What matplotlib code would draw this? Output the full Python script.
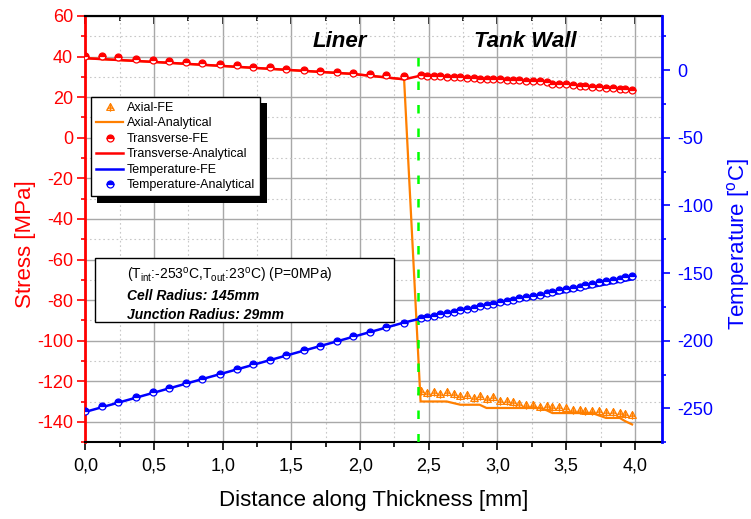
import numpy as np
import matplotlib
matplotlib.use('Agg')
import matplotlib.pyplot as plt
from matplotlib.ticker import MultipleLocator
from matplotlib.patches import Rectangle
from matplotlib.path import Path
import matplotlib.patheffects as pe

plt.rcParams['font.family'] = ['Liberation Sans', 'DejaVu Sans']
plt.rcParams['mathtext.fontset'] = 'custom'
plt.rcParams['mathtext.rm'] = 'Liberation Sans'
plt.rcParams['mathtext.it'] = 'Liberation Sans:italic'
plt.rcParams['mathtext.bf'] = 'Liberation Sans:bold'
plt.rcParams['axes.unicode_minus'] = False

# 데이터
liner_x = [0.00, 0.12, 0.24, 0.37, 0.49, 0.61, 0.73, 0.85, 0.98, 1.10,
           1.22, 1.34, 1.46, 1.59, 1.71, 1.83, 1.95, 2.07, 2.19, 2.32]
wall_x = [2.44, 2.49, 2.54, 2.58, 2.63, 2.68, 2.73, 2.78, 2.83, 2.87, 2.92,
          2.97, 3.02, 3.07, 3.11, 3.16, 3.21, 3.26, 3.31, 3.36, 3.40, 3.45,
          3.50, 3.55, 3.60, 3.64, 3.69, 3.74, 3.79, 3.84, 3.89, 3.93, 3.98]

# Transverse-FE (MPa)
trans_fe_liner = [40.3, 40.5, 39.7, 38.8, 38.3, 38.0, 37.2, 36.7, 36.4, 35.7,
                  35.0, 34.7, 33.8, 33.4, 32.9, 32.5, 32.1, 31.5, 30.8, 30.5]
trans_fe_wall = [31.0, 30.6, 30.5, 30.3, 30.1, 29.9, 29.7, 29.5, 29.3, 29.2, 29.0,
                 28.9, 28.8, 28.6, 28.4, 28.3, 28.1, 27.9, 27.8, 27.6, 26.5, 26.4,
                 26.3, 26.0, 25.7, 25.4, 25.1, 24.8, 24.5, 24.3, 24.0, 23.8, 23.6]

# Transverse-Analytical
trans_an_x = [0.00, 0.49, 0.97, 1.46, 1.94, 2.32, 2.44, 2.87, 3.36, 3.40, 3.98]
trans_an = [39.2, 37.4, 35.5, 33.5, 31.5, 28.8, 30.6, 29.0, 27.3, 26.2, 23.3]

# Axial-FE (tank wall)
axial_fe_wall = [-124.9, -125.7, -125.2, -126.2, -125.2, -126.2, -127.4, -126.9, -128.2,
                 -127.4, -128.5, -127.9, -129.5, -129.8, -130.2, -131.2, -131.5, -131.8,
                 -132.8, -132.3, -132.6, -132.8, -133.1, -133.9, -133.9, -134.8, -134.8,
                 -134.8, -135.1, -135.1, -135.6, -136.1, -136.4]

# Axial-Analytical
axial_an_x = [0.00, 0.49, 0.97, 1.46, 1.94, 2.32, 2.44, 2.63, 2.68, 2.73, 2.87, 2.92,
              3.31, 3.36, 3.40, 3.69, 3.74, 3.79, 3.89, 3.93, 3.98]
axial_an = [39.2, 37.4, 35.5, 33.5, 31.5, 28.8, -129.9, -129.9, -130.7, -131.5, -131.5,
            -133.1, -133.1, -134.3, -135.6, -135.6, -136.8, -138.0, -138.0, -139.6, -141.2]

# Temperature-Analytical (°C)
temp_an_liner = [-252.0, -248.5, -245.1, -241.6, -238.2, -234.7, -231.3, -227.9, -224.4, -221.0,
                 -217.5, -214.0, -210.6, -207.1, -203.7, -200.2, -196.8, -193.4, -189.9, -186.5]
temp_an_wall = [-183.4, -182.4, -181.5, -180.5, -179.5, -178.6, -177.6, -176.6, -175.6, -174.6,
                -173.7, -172.7, -171.7, -170.7, -169.7, -168.7, -167.8, -166.8, -165.8, -164.8,
                -163.8, -162.8, -161.8, -160.8, -159.9, -158.9, -157.9, -156.9, -155.9, -154.9,
                -154.0, -153.0, -152.1]

# Temperature-FE
temp_fe_x = [0.00, 1.16, 2.32, 2.44, 3.21, 3.98]
temp_fe = [-252.5, -219.5, -186.5, -183.6, -169.4, -154.6]

interface_x = 2.42
interface_range = [-150, 42]

xticks = [0.0, 0.5, 1.0, 1.5, 2.0, 2.5, 3.0, 3.5, 4.0]
xtick_labels = ['0,0', '0,5', '1,0', '1,5', '2,0', '2,5', '3,0', '3,5', '4,0']

legend_labels = ['Axial-FE', 'Axial-Analytical', 'Transverse-FE',
                 'Transverse-Analytical', 'Temperature-FE', 'Temperature-Analytical']

ORANGE = '#ff7f00'
RED = '#ff0000'
BLUE = '#0000ff'

# 삼각형 + 십자 마커
tri_cross = Path([(-1, -0.75), (1, -0.75), (0, 1), (-1, -0.75),
                  (0, 1), (0, -1.1), (-0.6, -0.15), (0.6, -0.15)],
                 [Path.MOVETO, Path.LINETO, Path.LINETO, Path.CLOSEPOLY,
                  Path.MOVETO, Path.LINETO, Path.MOVETO, Path.LINETO])

fig, ax = plt.subplots(figsize=(7.51, 5.19), dpi=100)
fig.subplots_adjust(left=0.1138, right=0.8819, top=0.9692, bottom=0.1478)
ax2 = ax.twinx()

ax.set_xlim(0, 4.2)
ax.set_ylim(-150, 60)
ax2.set_ylim(-275, 40)

# grid
ax.xaxis.set_major_locator(MultipleLocator(0.5))
ax.xaxis.set_minor_locator(MultipleLocator(0.25))
ax.yaxis.set_major_locator(MultipleLocator(20))
ax.yaxis.set_minor_locator(MultipleLocator(10))
ax2.yaxis.set_major_locator(MultipleLocator(50))
ax2.yaxis.set_minor_locator(MultipleLocator(25))
ax.grid(which='major', color='#a8a8a8', lw=1.0, ls='-')
ax.grid(which='minor', color='#c8c8c8', lw=0.8, ls=(0, (1.5, 2.5)))
ax.set_axisbelow(True)

ax.set_xticks(xticks)
ax.set_xticklabels(xtick_labels)

# 응력 곡선
h_axfe, = ax.plot(wall_x, axial_fe_wall, ls='none', marker=tri_cross, ms=6,
                  mfc='none', mec=ORANGE, mew=0.9, zorder=4)
h_axan, = ax.plot(axial_an_x, axial_an, color=ORANGE, lw=1.6, zorder=3)
h_trfe, = ax.plot(liner_x + wall_x, trans_fe_liner + trans_fe_wall, ls='none',
                  marker='o', ms=5, fillstyle='top', mfc=RED, mfcalt='white',
                  mec=RED, mew=0.9, zorder=6)
h_tran, = ax.plot(trans_an_x, trans_an, color=RED, lw=1.8, zorder=5)

ax.plot([interface_x, interface_x], interface_range, color='#00ff00', lw=1.8,
        dashes=(3.4, 6.0), zorder=7)

# 온도 곡선
h_tfe, = ax2.plot(temp_fe_x, temp_fe, color=BLUE, lw=1.8, zorder=3)
h_tan, = ax2.plot(liner_x + wall_x, temp_an_liner + temp_an_wall, ls='none',
                  marker='o', ms=5, fillstyle='top', mfc=BLUE, mfcalt='white',
                  mec=BLUE, mew=0.9, zorder=4)

# spines / ticks
ax.spines['left'].set_color(RED)
ax.spines['left'].set_linewidth(2)
ax.spines['right'].set_visible(False)
for s in ['top', 'bottom']:
    ax.spines[s].set_linewidth(1.5)
for s in ['left', 'top', 'bottom']:
    ax2.spines[s].set_visible(False)
ax2.spines['right'].set_color(BLUE)
ax2.spines['right'].set_linewidth(2)

ax.tick_params(axis='y', which='both', colors=RED, labelsize=13, pad=3)
ax.tick_params(axis='y', which='major', length=6, width=1.2)
ax.tick_params(axis='y', which='minor', length=3, width=1.2)
ax.tick_params(axis='x', which='both', direction='out', labelsize=13, pad=5)
ax.tick_params(axis='x', which='major', length=6, width=1.2)
ax.tick_params(axis='x', which='minor', length=3.5, width=1.2)
ax2.tick_params(axis='y', which='both', colors=BLUE, labelsize=13, pad=5)
ax2.tick_params(axis='y', which='major', length=6, width=1.2)
ax2.tick_params(axis='y', which='minor', length=3, width=1.2)

# 위쪽 눈금 (안쪽)
top = ax.secondary_xaxis('top')
top.xaxis.set_major_locator(MultipleLocator(0.5))
top.xaxis.set_minor_locator(MultipleLocator(0.25))
top.tick_params(which='both', direction='in', labeltop=False, width=1.2)
top.tick_params(which='major', length=6)
top.tick_params(which='minor', length=3.5)
top.spines['top'].set_linewidth(1.5)

ax.set_xlabel('Distance along Thickness [mm]', fontsize=16)
ax.set_ylabel('Stress [MPa]', fontsize=16, color=RED)
ax2.set_ylabel('Temperature [$^{\\rm o}$C]', fontsize=16, color=BLUE)
ax.xaxis.set_label_coords(0.5, -0.112)
ax.yaxis.set_label_coords(-0.086, 0.466)
ax2.yaxis.set_label_coords(1.109, 0.466)

ax.text(1.85, 47.4, 'Liner', fontsize=16, fontweight='bold', fontstyle='italic',
        ha='center', va='center')
ax.text(3.2, 47.4, 'Tank Wall', fontsize=16, fontweight='bold', fontstyle='italic',
        ha='center', va='center')

# 조건 박스
ax2.add_patch(Rectangle((0.0165, 0.282), 0.5185, 0.15, transform=ax2.transAxes,
                        facecolor='white', edgecolor='black', lw=1.0, zorder=8))
ax2.text(0.0714, 0.392, '(T$_{\\rm int}$:-253$^{\\rm o}$C,T$_{\\rm out}$:23$^{\\rm o}$C) (P=0MPa)',
         transform=ax2.transAxes, fontsize=10, va='center', zorder=9)
ax2.text(0.0714, 0.344, 'Cell Radius: 145mm', transform=ax2.transAxes, fontsize=10,
         fontweight='bold', fontstyle='italic', va='center', zorder=9)
ax2.text(0.0714, 0.2986, 'Junction Radius: 29mm', transform=ax2.transAxes, fontsize=10,
         fontweight='bold', fontstyle='italic', va='center', zorder=9)

leg = ax2.legend([h_axfe, h_axan, h_trfe, h_tran, h_tfe, h_tan], legend_labels,
                 loc='upper left', bbox_to_anchor=(0.0095, 0.81), borderaxespad=0,
                 fontsize=9, fancybox=False, framealpha=1, edgecolor='black',
                 handlelength=2.2, handletextpad=0.3, labelspacing=0.28,
                 borderpad=0.4, numpoints=1)
leg.get_frame().set_linewidth(1.0)
leg.get_frame().set_path_effects([pe.SimplePatchShadow(offset=(4.5, -4.5), shadow_rgbFace='k',
                                                       alpha=1.0), pe.Normal()])
leg.set_zorder(10)

plt.savefig('out.png', dpi=100)
